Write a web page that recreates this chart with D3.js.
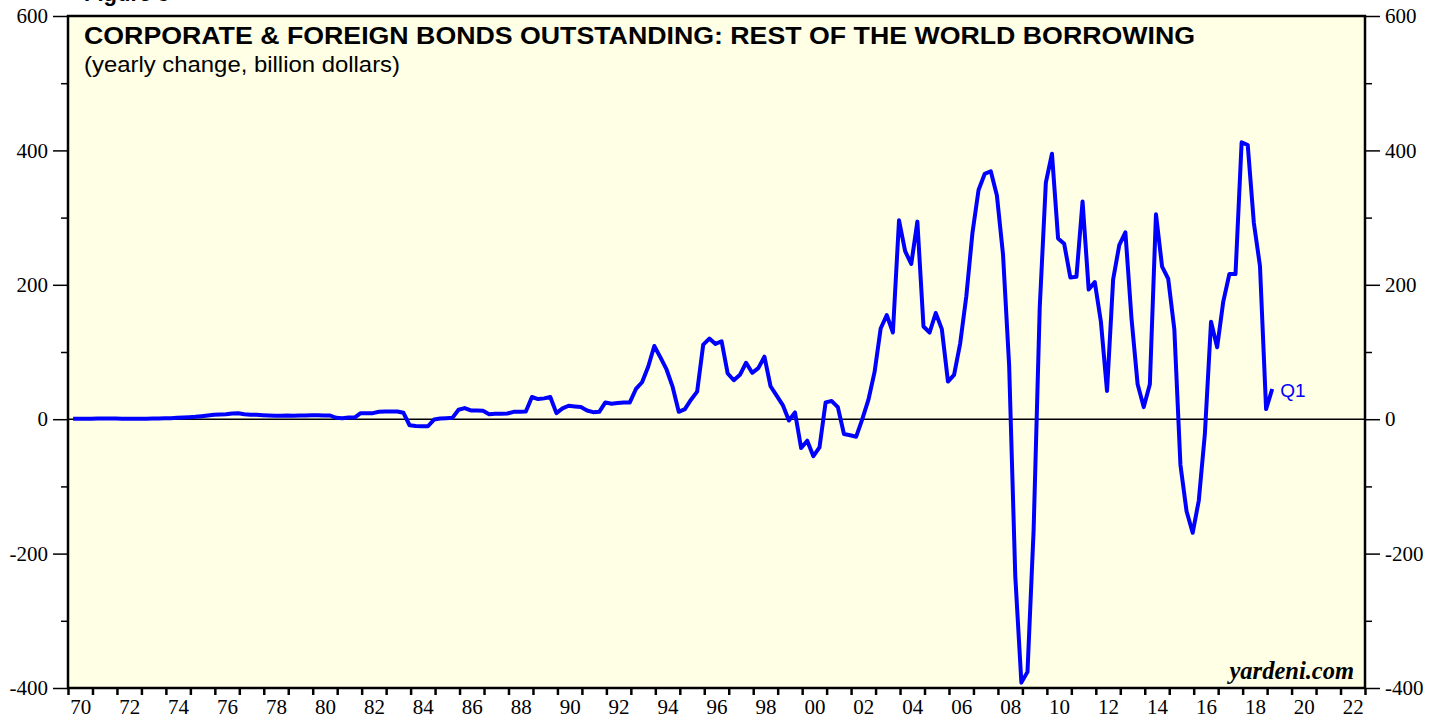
<!DOCTYPE html>
<html>
<head>
<meta charset="utf-8">
<script src="https://cdn.jsdelivr.net/npm/d3@7/dist/d3.min.js"></script>
<style>
  body { margin: 0; background: #fff; }
  svg { display: block; }
  .tick text { font-family: "Liberation Serif", "Times New Roman", serif; font-size: 21px; fill: #000; }
</style>
</head>
<body>
<svg id="graph" width="1442" height="719"></svg>
<script>
/*globals d3*/

// quarterly yearly-change values (billion $), Q1 1970 .. Q1 2019
var rowSeventies = [0.5,0.5,0.5,0.5, 1,1,1,1, 0.5,0.5,0.5,0.5, 0.5,1,1,1.5, 1.5,2,2.5,3,
                    3.5,4.5,5.5,6.5, 7,7.5,8.5,9, 7.5,6.5,6.5,6, 5.5,5,5,5.5, 5,5.5,5.5,6];
var rowEighties = [6,5.5,5.5,2, 1.5,2.5,2.5,9, 9,9,11,11.5, 11.5,11.5,9.5,-9, -10,-10.5,-10.5,-0.5,
                   1,1.5,2,14, 16.5,13,13,12.5, 7.5,8,8,8.5, 11,11,11.5,33, 30,31,33,9];
var rowNineties = [16,20,19,18, 13,10.5,11,25, 23,24,25,25, 45,55,78,109, 92,74,48,11,
                   15,29,41,111, 120,112,116,68, 58,66,84,69, 76,93,49,35, 21,-2,10,-43];
var rowNoughties = [-32,-55,-42,25, 27,18,-22,-24, -26,0,29,70, 135,155,129,296, 250,231,294,138,
                    129,158,134,56, 66,113,183,277, 341,365,369,333, 245,80,-233,-392, -376,-165,166,352];
var rowTens = [395,269,261,211, 212,324,193,204, 145,42,208,259, 278,150,52,18, 52,305,227,209,
               134,-68,-137,-169, -121,-21,145,107, 175,216,216,412, 408,292,228,15, 45];

var firstYear = 1970;
var yTicks = [-400, -200, 0, 200, 400, 600];
var yMinorTicks = [-300, -100, 100, 300, 500];
var xLabelYears = d3.range(1970, 2023, 2);

var values = rowSeventies.concat(rowEighties, rowNineties, rowNoughties, rowTens);
var series = values.map(function(v, i) {
  var yr = firstYear + Math.floor(i / 4), q = i % 4 + 1;
  // plotted at the middle of the last month of the quarter
  return { t: yr + (3 * q - 0.5) / 12, v: v };
});

var svg = d3.select("svg"),
    plotL = 68, plotR = 1365, plotT = 16, plotB = 688;

var x = d3.scaleLinear().domain([1970, 2023]).range([plotL, plotR]);
var y = d3.scaleLinear().domain([-400, 600]).range([plotB, plotT]);

// cut-off figure caption at the very top
svg.append("text")
  .attr("x", 84).attr("y", 1)
  .style("font-family", "'Liberation Sans', Arial, sans-serif")
  .style("font-weight", "bold").style("font-size", "22px")
  .text("Figure 3");

svg.append("rect")
  .attr("x", plotL).attr("y", plotT)
  .attr("width", plotR - plotL).attr("height", plotB - plotT)
  .attr("fill", "#ffffe6");

// zero line
svg.append("line")
  .attr("x1", plotL).attr("x2", plotR)
  .attr("y1", y(0)).attr("y2", y(0))
  .attr("stroke", "#000").attr("stroke-width", 1.5);

var line = d3.line()
  .x(function(d) { return x(d.t); })
  .y(function(d) { return y(d.v); });

svg.append("path")
  .datum(series)
  .attr("fill", "none")
  .attr("stroke", "#0000ff")
  .attr("stroke-width", 4)
  .attr("stroke-linejoin", "round")
  .attr("d", line);

var last = series[series.length - 1];
svg.append("text")
  .attr("x", x(last.t) + 8).attr("y", y(last.v) + 8)
  .attr("fill", "#0000ff")
  .style("font-family", "'Liberation Sans', Arial, sans-serif")
  .style("font-size", "19px")
  .text("Q1");

// frame
svg.append("rect")
  .attr("x", plotL).attr("y", plotT)
  .attr("width", plotR - plotL).attr("height", plotB - plotT)
  .attr("fill", "none").attr("stroke", "#000").attr("stroke-width", 2.5);

function styleAxis(g) {
  g.select(".domain").remove();
  g.selectAll(".tick line").attr("stroke", "#000").attr("stroke-width", 1.5);
}
// plain hyphen for negatives, like the original
var fmtY = function(d) { return String(d); };

// y axes, major + minor ticks
svg.append("g").attr("transform", "translate(" + plotL + ",0)")
  .call(d3.axisLeft(y).tickValues(yTicks).tickSize(15).tickPadding(5).tickFormat(fmtY))
  .call(styleAxis);
svg.append("g").attr("transform", "translate(" + plotL + ",0)")
  .call(d3.axisLeft(y).tickValues(yMinorTicks).tickSize(7).tickFormat(""))
  .call(styleAxis);
svg.append("g").attr("transform", "translate(" + plotR + ",0)")
  .call(d3.axisRight(y).tickValues(yTicks).tickSize(15).tickPadding(5).tickFormat(fmtY))
  .call(styleAxis);
svg.append("g").attr("transform", "translate(" + plotR + ",0)")
  .call(d3.axisRight(y).tickValues(yMinorTicks).tickSize(7).tickFormat(""))
  .call(styleAxis);

// x axis: a tick at every year boundary, labels centred in even years
var xTicks = svg.append("g").attr("transform", "translate(0," + plotB + ")")
  .call(d3.axisBottom(x).tickValues(d3.range(1970, 2024)).tickSize(7).tickFormat(""))
  .call(styleAxis);
xTicks.selectAll(".tick line").attr("stroke-width", 2.5);

svg.append("g").attr("transform", "translate(0," + plotB + ")")
  .call(d3.axisBottom(x).tickValues(xLabelYears.map(function(d) { return d + 0.5; }))
    .tickSize(0).tickPadding(11)
    .tickFormat(function(d) { return d3.format("02d")(Math.floor(d) % 100); }))
  .call(styleAxis);

// titles
svg.append("text")
  .attr("x", 84).attr("y", 44)
  .attr("textLength", 1111).attr("lengthAdjust", "spacingAndGlyphs")
  .style("font-family", "'Liberation Sans', Arial, sans-serif")
  .style("font-weight", "bold").style("font-size", "24px")
  .text("CORPORATE & FOREIGN BONDS OUTSTANDING: REST OF THE WORLD BORROWING");
svg.append("text")
  .attr("x", 84).attr("y", 72)
  .attr("textLength", 316).attr("lengthAdjust", "spacingAndGlyphs")
  .style("font-family", "'Liberation Sans', Arial, sans-serif")
  .style("font-size", "22px")
  .text("(yearly change, billion dollars)");

svg.append("text")
  .attr("x", 1354).attr("y", 679)
  .attr("text-anchor", "end")
  .style("font-family", "'Liberation Serif', 'Times New Roman', serif")
  .style("font-weight", "bold").style("font-style", "italic").style("font-size", "24.5px")
  .text("yardeni.com");
</script>
</body>
</html>
